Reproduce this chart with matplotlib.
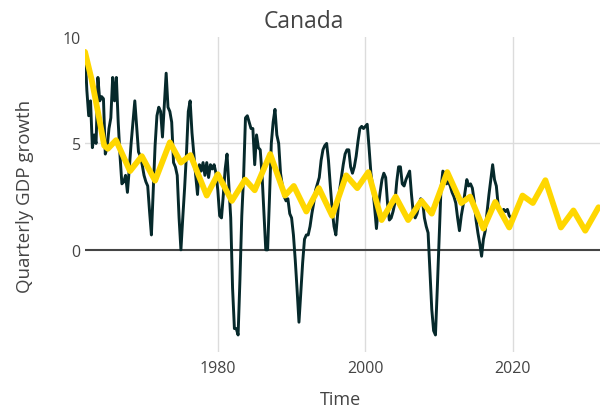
import numpy as np
import matplotlib
matplotlib.use("Agg")
import matplotlib.pyplot as plt

plt.rcParams['font.family'] = ['Open Sans', 'DejaVu Sans']

title = "Canada"
x_label = "Time"
y_label = "Quarterly GDP growth"

# Observed quarterly GDP growth, starting 1962 Q1
obs_start_year = 1962.0
obs_values = [
    9.3, 7.5, 6.3, 7.0,   4.8, 5.4, 5.0, 8.1,   7.0, 7.2, 7.1, 4.5,
    4.8, 5.7, 6.2, 8.1,   7.0, 8.1, 6.0, 4.4,   3.1, 3.2, 3.5, 2.7,
    3.8, 5.0, 6.0, 7.0,   5.8, 4.6, 4.4, 4.0,   3.5, 3.2, 3.0, 1.8,
    0.7, 2.8, 4.9, 6.3,   6.7, 6.5, 5.3, 6.8,   8.3, 6.7, 6.5, 6.0,
    4.1, 3.9, 3.5, 1.5,   0.0, 1.5, 2.9, 4.5,   6.5, 7.0, 5.5, 4.5,
    3.5, 2.6, 4.0, 3.7,   4.1, 3.5, 4.1, 3.4,   4.0, 3.8, 4.0, 3.6,
    2.8, 1.6, 1.5, 2.6,   3.8, 4.5, 3.0, 1.5,  -1.8, -3.7, -3.7, -4.0,
    -1.4, 1.6, 3.5, 6.2,  6.3, 6.0, 5.7, 5.7,   4.0, 5.4, 4.8, 4.7,
    3.5, 1.8, 0.0, 0.0,   2.4, 5.0, 6.0, 6.6,   5.4, 5.0, 3.6, 3.0,
    2.5, 2.3, 2.4, 1.7,   1.5, 0.7, -0.5, -1.9, -3.4, -2.0, -0.6, 0.5,
    0.7, 0.7, 1.1, 1.7,   2.2, 2.8, 3.1, 3.4,   4.2, 4.7, 4.9, 5.0,
    4.2, 3.0, 1.9, 1.1,   0.7, 1.7, 2.8, 3.4,   4.0, 4.5, 4.7, 4.7,
    3.9, 3.6, 3.9, 4.4,   5.1, 5.7, 5.8, 5.7,   5.8, 5.9, 4.8, 3.6,
    2.9, 2.0, 1.0, 2.0,   2.7, 3.3, 3.6, 3.4,   2.2, 1.4, 1.5, 1.8,
    2.2, 3.2, 3.9, 3.9,   3.1, 3.0, 3.3, 3.5,   3.7, 2.6, 1.7, 1.5,
    1.7, 2.1, 2.4, 2.3,   1.5, 1.1, 0.8, -1.0, -2.8, -3.8, -4.0, -1.8,
    0.6, 2.9, 3.7, 3.6,   3.1, 3.2, 3.0, 2.7,   2.5, 2.2, 1.5, 0.9,
    1.6, 2.1, 2.7, 3.3,   3.0, 3.1, 2.9, 2.3,   1.4, 0.8, 0.3, -0.3,
    0.5, 0.9, 1.8, 2.6,   3.3, 4.0, 3.3, 3.0,   2.1, 1.8, 1.8, 1.9,
    1.8, 1.9, 1.6, 1.5,
]

# Fitted / forecast series (turning points)
fit_years = [
    1962.0, 1962.9, 1963.8, 1964.6, 1965.1, 1966.2, 1968.1, 1969.7, 1971.5,
    1973.5, 1975.0, 1976.3, 1978.5, 1980.0, 1981.9, 1983.7, 1985.0, 1987.1,
    1989.1, 1990.3, 1992.0, 1993.7, 1995.5, 1997.4, 1998.9, 2000.4, 2002.2,
    2004.1, 2005.8, 2007.6, 2009.0, 2011.1, 2013.0, 2014.2, 2016.0, 2017.6,
    2019.5, 2021.3, 2022.7, 2024.4, 2026.5, 2028.2, 2029.8, 2031.6,
]
fit_values = [
    9.3, 8.0, 6.4, 4.9, 4.75, 5.15, 3.7, 4.4, 3.25,
    5.05, 4.1, 4.45, 2.55, 3.55, 2.3, 3.3, 2.8, 4.5,
    2.55, 3.0, 1.8, 2.9, 1.6, 3.5, 2.9, 3.65, 1.4,
    2.5, 1.4, 2.3, 1.7, 3.65, 2.2, 2.5, 1.0, 2.25,
    1.05, 2.55, 2.2, 3.27, 1.05, 1.85, 0.9, 2.0,
]

x_ticks = [1980, 2000, 2020]
y_ticks = [0, 5, 10]

obs_years = obs_start_year + np.arange(len(obs_values)) / 4.0

fig = plt.figure(figsize=(6.0, 4.14), dpi=100)
ax = fig.add_axes([85 / 600, 61 / 414, 515 / 600, 315 / 414])

text_color = "#444444"
grid_color = "#dcdcdc"

ax.set_xlim(1962.0, 2031.8)
ax.set_ylim(-4.8, 10.0)

for xt in x_ticks:
    ax.axvline(xt, color=grid_color, lw=1.0, zorder=0)
ax.axhline(5, color=grid_color, lw=1.0, zorder=0)
ax.axhline(0, color="#444444", lw=1.5, zorder=1)

ax.plot(obs_years, obs_values, color="#06292b", lw=2.1, zorder=2,
        solid_joinstyle="round")
ax.plot(fit_years, fit_values, color="#FFD700", lw=4.2, zorder=3,
        solid_joinstyle="round", solid_capstyle="round")

for s in ax.spines.values():
    s.set_visible(False)

ax.set_xticks(x_ticks)
ax.set_yticks(y_ticks)
ax.tick_params(axis="both", length=0, labelsize=11.5, labelcolor=text_color)
ax.tick_params(axis="x", pad=6)
ax.tick_params(axis="y", pad=3)

fig.text(304 / 600, 1 - 22 / 414, title, ha="center", va="center",
         fontsize=16.5, color=text_color)
fig.text(341 / 600, 1 - 400 / 414, x_label, ha="center", va="center",
         fontsize=13, color=text_color)
fig.text(25 / 600, 1 - 196 / 414, y_label, ha="center", va="center",
         rotation=90, fontsize=13.5, color=text_color)

fig.savefig("out.png", dpi=100)
